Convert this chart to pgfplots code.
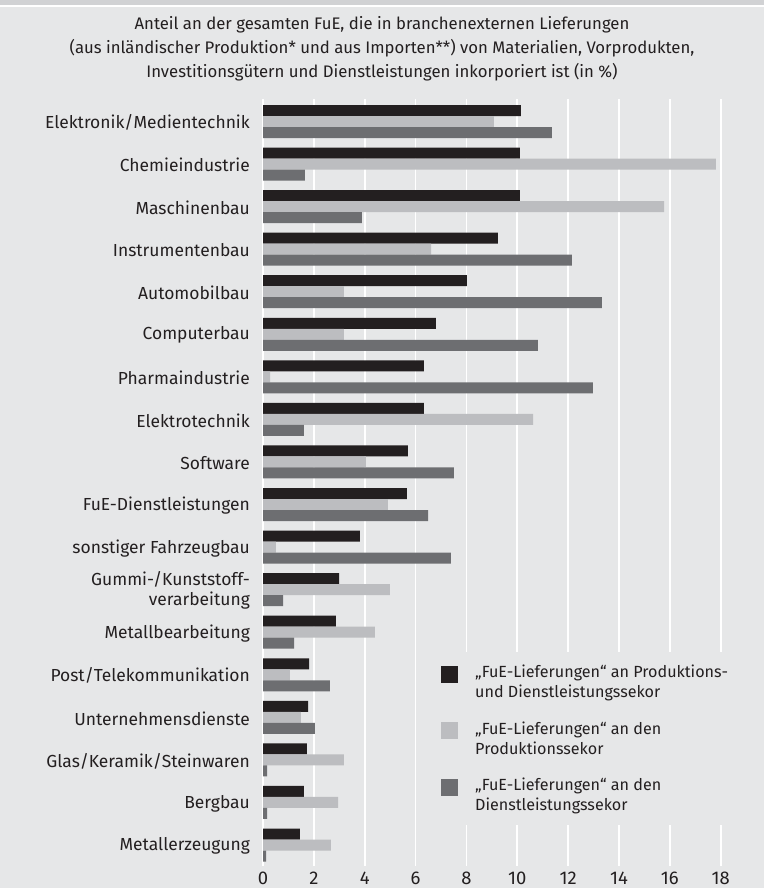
\documentclass[border=0pt]{standalone}
\usepackage{pgfplots}
\pgfplotsset{compat=1.18}
\usepackage{pgfplotstable}
\usepackage{fontspec}
\setmainfont{Fira Sans}

\definecolor{bgc}{HTML}{E6E7E8}
\definecolor{band}{HTML}{D1D2D4}
\definecolor{txt}{HTML}{231F20}
\definecolor{sone}{HTML}{231F20}
\definecolor{stwo}{HTML}{BCBDC0}
\definecolor{sthree}{HTML}{6D6E71}

% y = position from bottom (17 = Elektronik/Medientechnik)
% a = Produktions- und Dienstleistungssektor, b = Produktionssektor, c = Dienstleistungssektor
\pgfplotstableread{
y  a      b      c
17 10.14  9.08  11.36
16 10.10 17.81   1.65
15 10.10 15.77   3.89
14  9.24  6.61  12.15
13  8.02  3.18  13.33
12  6.80  3.18  10.81
11  6.33  0.28  12.97
10  6.33 10.62   1.61
9   5.70  4.05   7.51
8   5.66  4.91   6.49
7   3.81  0.51   7.39
6   2.99  4.99   0.79
5   2.87  4.40   1.22
4   1.81  1.06   2.63
3   1.77  1.49   2.04
2   1.73  3.18   0.16
1   1.61  2.95   0.16
0   1.45  2.67   0.12
}\fuedata

\begin{document}
\begin{tikzpicture}
\path[use as bounding box, fill=bgc] (0,0) rectangle (764bp,888bp);
\fill[band] (0,883bp) rectangle (764bp,888bp);
\fill[white] (0,881bp) rectangle (764bp,883bp);
\node[align=center, text=txt, font=\fontsize{16.8}{24}\selectfont] at (382bp,839bp)
  {Anteil an der gesamten FuE, die in branchenexternen Lieferungen\\
   (aus inländischer Produktion* und aus Importen**) von Materialien, Vorprodukten,\\
   Investitionsgütern und Dienstleistungen inkorporiert ist (in \%)};

\begin{axis}[
  at={(263bp,22bp)}, anchor=south west,
  scale only axis, width=457.7bp, height=767bp,
  xbar, bar width=11bp,
  xmin=0, xmax=18, ymin=-0.493, ymax=17.529,
  axis line style={draw=none},
  xtick={0,2,...,18},
  ytick={0,...,17},
  yticklabels={Metallerzeugung, Bergbau, Glas/Keramik/Steinwaren, Unternehmensdienste,
    Post/Telekommunikation, Metallbearbeitung, {Gummi-/Kunststoff-\\verarbeitung},
    sonstiger Fahrzeugbau, FuE-Dienstleistungen, Software, Elektrotechnik,
    Pharmaindustrie, Computerbau, Automobilbau, Instrumentenbau, Maschinenbau,
    Chemieindustrie, Elektronik/Medientechnik},
  major tick length=0pt,
  xmajorgrids, ymajorgrids=false,
  grid style={white, line width=1.6bp},
  /pgf/number format/assume math mode=true,
  xticklabel style={text=txt, font=\fontsize{18.5}{20}\selectfont, inner sep=0pt, yshift=-6bp},
  yticklabel style={text=txt, font=\fontsize{17.5}{20}\selectfont, align=right,
    anchor=east, inner sep=0pt, xshift=-13bp, yshift=-1bp},
  legend cell align=left,
  legend style={at={(axis cs:6.49,4.535)}, anchor=north west, fill=bgc, draw=none,
    inner xsep=13bp, inner ysep=11bp, row sep={56.5bp,between origins},
    column sep=15bp, text=txt,
    font=\fontsize{16.2}{20}\selectfont,
    cells={anchor=base west, align=left}},
  legend image code/.code={\fill[#1] (0bp,15bp) rectangle (17bp,32bp);},
]
\addplot[draw=none, fill=sone, bar shift=11bp] table[x=a, y=y] {\fuedata};
\addplot[draw=none, fill=stwo, bar shift=0bp] table[x=b, y=y] {\fuedata};
\addplot[draw=none, fill=sthree, bar shift=-11bp] table[x=c, y=y] {\fuedata};
\addlegendentry{„FuE-Lieferungen“ an Produktions-\\und Dienstleistungssekor}
\addlegendentry{„FuE-Lieferungen“ an den\\Produktionssekor}
\addlegendentry{„FuE-Lieferungen“ an den\\Dienstleistungssekor}
\end{axis}
\end{tikzpicture}
\end{document}
